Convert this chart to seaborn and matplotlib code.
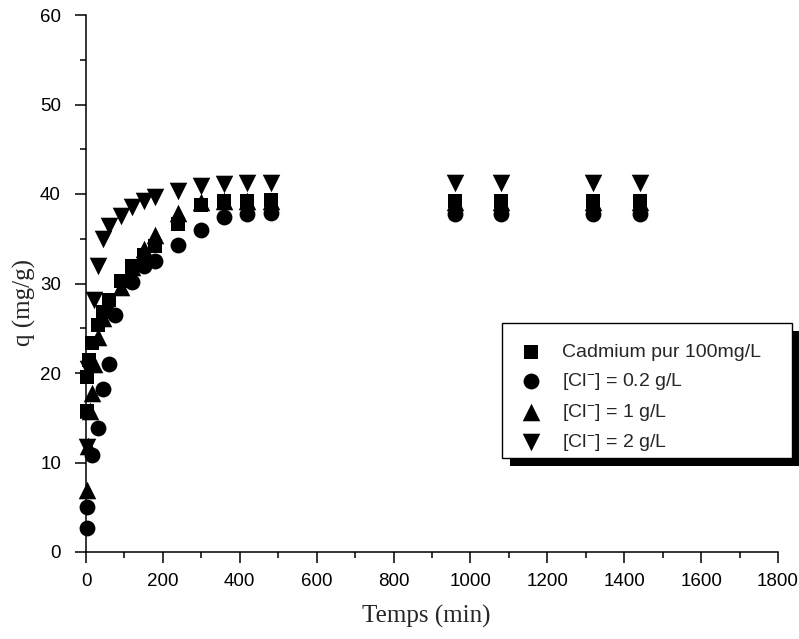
import matplotlib
matplotlib.use("Agg")
import matplotlib.pyplot as plt
import seaborn as sns
from matplotlib.patches import Rectangle
from matplotlib.transforms import IdentityTransform
from matplotlib.ticker import MultipleLocator

# =========================
# DATA
# =========================

t_cd = [2, 3, 8, 15, 30, 45, 60, 90, 120, 150, 180, 240, 300, 360, 420, 480, 960, 1080, 1320, 1440]
q_cd = [15.8, 19.5, 21.5, 23.4, 25.4, 26.8, 28.2, 30.3, 32.0, 33.2, 34.2, 36.7, 38.8, 39.2, 39.2, 39.3, 39.2, 39.2, 39.2, 39.2]

t_c02 = [2, 3, 15, 30, 45, 60, 75, 120, 150, 180, 240, 300, 360, 420, 480, 960, 1080, 1320, 1440]
q_c02 = [2.7, 5.0, 10.8, 13.8, 18.2, 21.0, 26.5, 30.2, 32.0, 32.5, 34.3, 36.0, 37.4, 37.8, 37.9, 37.8, 37.8, 37.8, 37.8]

t_c1 = [2, 5, 10, 15, 20, 30, 45, 60, 90, 120, 150, 180, 240, 300, 360, 420, 480, 960, 1080, 1320, 1440]
q_c1 = [6.9, 11.8, 15.8, 17.8, 21.0, 24.0, 26.2, 27.4, 29.6, 31.8, 33.8, 35.4, 37.9, 39.1, 39.2, 39.2, 39.2, 39.1, 39.1, 39.1, 39.1]

t_c2 = [2, 5, 20, 30, 45, 60, 90, 120, 150, 180, 240, 300, 360, 420, 480, 960, 1080, 1320, 1440]
q_c2 = [11.7, 20.5, 28.2, 31.9, 35.0, 36.4, 37.5, 38.6, 39.2, 39.7, 40.3, 40.9, 41.1, 41.2, 41.2, 41.2, 41.2, 41.2, 41.2]

labels = ["Cadmium pur 100mg/L",
          "[Cl$^{-}$] = 0.2 g/L",
          "[Cl$^{-}$] = 1 g/L",
          "[Cl$^{-}$] = 2 g/L"]

# =========================
# STYLE
# =========================

sns.set_style("ticks")
plt.rcParams['font.family'] = ['Liberation Sans', 'DejaVu Sans']
plt.rcParams['mathtext.default'] = 'regular'

W, H = 799, 639
fig = plt.figure(figsize=(W / 100, H / 100), dpi=100)
ax = fig.add_axes([86 / W, 1 - 552 / H, 692 / W, 537 / H])

# =========================
# SCATTER SERIES
# =========================

series = [
    (t_cd, q_cd, "s", 115),
    (t_c02, q_c02, "o", 130),
    (t_c1, q_c1, "^", 160),
    (t_c2, q_c2, "v", 160),
]

for (t, q, m, size), lab in zip(series, labels):
    sns.scatterplot(
        x=t, y=q, marker=m, s=size,
        color="black", edgecolor="black", linewidth=0,
        label=lab, clip_on=False, zorder=3, ax=ax
    )

ax.set_xlim(0, 1800)
ax.set_ylim(0, 60)

ax.xaxis.set_major_locator(MultipleLocator(200))
ax.xaxis.set_minor_locator(MultipleLocator(100))
ax.yaxis.set_major_locator(MultipleLocator(10))
ax.yaxis.set_minor_locator(MultipleLocator(5))

ax.tick_params(which="major", direction="out", length=8, width=1.1,
               labelsize=13.5, color="black", labelcolor="black")
ax.tick_params(which="minor", direction="out", length=4.5, width=1.1,
               color="black")
ax.tick_params(axis="x", which="major", pad=7)
ax.tick_params(axis="y", which="major", pad=10)

sns.despine(ax=ax)
for sp in ["left", "bottom"]:
    ax.spines[sp].set_linewidth(1.1)
    ax.spines[sp].set_color("black")

ax.set_xlabel("Temps (min)", family="Liberation Serif", fontsize=18)
ax.set_ylabel("q (mg/g)", family="Liberation Serif", fontsize=18)
ax.xaxis.set_label_coords((426 - 86) / 692, -(605 - 552) / 537)
ax.yaxis.set_label_coords((36 - 86) / 692, (552 - 302) / 537)

# =========================
# LEGEND (own frame + black shadow)
# =========================

leg = ax.legend(
    loc="upper left",
    bbox_to_anchor=(502 / W, 1 - 330 / H),
    bbox_transform=fig.transFigure,
    borderaxespad=0,
    fontsize=14,
    frameon=False,
    borderpad=0.7,
    labelspacing=0.5,
    handlelength=1.6,
    handletextpad=0.8,
)
leg.set_zorder(5)

box_x, box_y, box_w, box_h = 502, H - 458, 290, 135
frame = Rectangle((box_x, box_y), box_w, box_h, facecolor="white",
                  edgecolor="black", linewidth=1.0, clip_on=False)
shadow = Rectangle((box_x + 8, box_y - 8), box_w, box_h,
                   facecolor="black", edgecolor="none", clip_on=False)
for patch, z in [(shadow, 4.8), (frame, 4.9)]:
    patch.set_transform(IdentityTransform())
    patch.set_zorder(z)
    ax.add_artist(patch)

plt.savefig("out.png", dpi=100)
